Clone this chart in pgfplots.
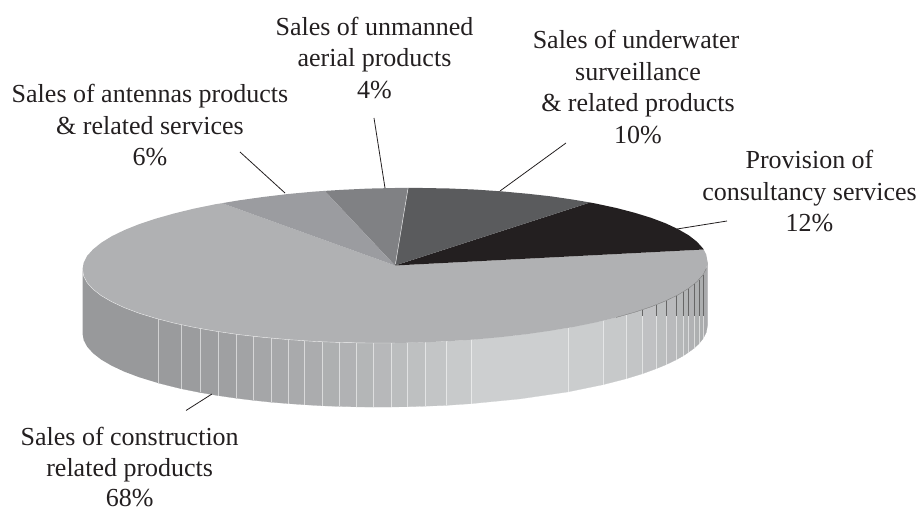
\documentclass[border=0pt]{standalone}
\usepackage{pgfplots}
\pgfplotsset{compat=1.18}
\usepackage{fontspec}
\setmainfont{Liberation Serif}

\definecolor{ink}{HTML}{231F20}
\definecolor{topLight}{HTML}{B0B1B3}
\definecolor{topMid}{HTML}{9B9CA0}
\definecolor{topGray}{HTML}{808184}
\definecolor{topDark}{HTML}{5A5B5D}
\definecolor{sideL}{HTML}{98999B}
\definecolor{sideR}{HTML}{CDCFD0}

% one facet of the rim: shade, x1, top1, bottom1, x2, top2, bottom2
\newcommand{\band}[7]{%
  \addplot[draw=sideR!#1!sideL,line width=0.2pt,fill=sideR!#1!sideL] coordinates {(#2,#3) (#5,#6) (#5,#7) (#2,#4)} --cycle;
  \addplot[color=white,opacity=0.55,line width=0.4pt] coordinates {(#2,#3) (#2,#4)};
}
\newcommand{\lbl}[3]{\node[anchor=base,text=ink,font=\fontsize{26}{31}\selectfont,inner sep=0pt] at (axis cs:#1,#2) {#3};}

\begin{document}
\begin{tikzpicture}
\useasboundingbox (0,0) rectangle (921pt,510pt);
\begin{axis}[
    at={(0,0)}, anchor=south west,
    scale only axis,
    width=921pt, height=510pt,
    xmin=0, xmax=921, ymin=0, ymax=510,
    y dir=reverse,
    hide axis,
    clip=false,
  ]
% rim, left end with its curve
\addplot[draw=none,fill=sideL] coordinates {
  (82.5,269.4) (83.7,276.2) (87.2,282.8) (93.2,289.4) (101.3,295.7) (111.8,301.8) (124.4,307.7)
  (139.0,313.2) (155.6,318.3) (158,319.0)
  (158,383.0) (155.6,382.3) (139.0,377.2) (124.4,371.7) (111.8,365.8) (101.3,359.7) (93.2,353.4)
  (87.2,346.8) (83.7,340.2) (82.5,333.4)} --cycle;
\band{4}{158}{319.0}{383.0}{181}{324.7}{388.7}
\band{6}{181}{324.7}{388.7}{200}{328.5}{392.5}
\band{9}{200}{328.5}{392.5}{218}{331.6}{395.6}
\band{13}{218}{331.6}{395.6}{236}{334.2}{398.2}
\band{19}{236}{334.2}{398.2}{253}{336.3}{400.3}
\band{25}{253}{336.3}{400.3}{271}{338.2}{402.2}
\band{28}{271}{338.2}{402.2}{288}{339.6}{403.6}
\band{32}{288}{339.6}{403.6}{304}{340.7}{404.7}
\band{36}{304}{340.7}{404.7}{322}{341.8}{405.8}
\band{42}{322}{341.8}{405.8}{339}{342.4}{406.4}
\band{47}{339}{342.4}{406.4}{356}{342.9}{406.9}
\band{53}{356}{342.9}{406.9}{373}{343.1}{407.1}
\band{58}{373}{343.1}{407.1}{391}{343.0}{407.0}
\band{66}{391}{343.0}{407.0}{407}{342.8}{406.8}
\band{72}{407}{342.8}{406.8}{425}{342.2}{406.2}
\band{81}{425}{342.2}{406.2}{446}{341.4}{405.4}
\band{91}{446}{341.4}{405.4}{471}{339.7}{403.7}
\addplot[draw=sideR,line width=0.2pt,fill=sideR] coordinates {(471,339.7) (520,334.9) (568,327.9) (568,391.9) (520,398.9) (471,403.7)} --cycle;
\addplot[color=white,opacity=0.55,line width=0.4pt] coordinates {(471,339.7) (471,403.7)};
\band{96}{568}{327.9}{391.9}{603}{320.7}{384.7}
\band{89}{603}{320.7}{384.7}{626}{314.8}{378.8}
\band{81}{626}{314.8}{378.8}{642}{309.9}{373.9}
\band{75}{642}{309.9}{373.9}{656}{304.8}{368.8}
\band{68}{656}{304.8}{368.8}{666}{300.7}{364.7}
\band{62}{666}{300.7}{364.7}{676}{295.9}{359.9}
\band{57}{676}{295.9}{359.9}{683}{292.0}{356.0}
\band{51}{683}{292.0}{356.0}{688}{288.7}{352.7}
\band{47}{688}{288.7}{352.7}{694}{284.3}{348.3}
\band{42}{694}{284.3}{348.3}{699}{279.7}{343.7}
\band{38}{699}{279.7}{343.7}{703}{274.7}{338.7}
\addplot[draw=sideR!32!sideL,line width=0.2pt,fill=sideR!32!sideL] coordinates {(703,274.7) (706.3,268.4) (707.5,261.6) (707.5,325.6) (706.3,332.4) (703,338.7)} --cycle;
\addplot[color=white,opacity=0.55,line width=0.4pt] coordinates {(703,274.7) (703,338.7)};
% dark upper parts of the rim lines on the right
\addplot[color=black!60,line width=0.3pt] coordinates {(642,309.9) (642,316)};
\addplot[color=black!60,line width=0.3pt] coordinates {(656,304.8) (656,316)};
\addplot[color=black!60,line width=0.3pt] coordinates {(666,300.7) (666,316)};
\addplot[color=black!60,line width=0.3pt] coordinates {(676,295.9) (676,316)};
\addplot[color=black!60,line width=0.3pt] coordinates {(683,292.0) (683,316)};
\addplot[color=black!60,line width=0.3pt] coordinates {(688,288.7) (688,316)};
\addplot[color=black!60,line width=0.3pt] coordinates {(694,284.3) (694,316)};
\addplot[color=black!60,line width=0.3pt] coordinates {(699,279.7) (699,316)};
\addplot[color=black!60,line width=0.3pt] coordinates {(703,274.7) (703,316)};

% top face, slices
\addplot[draw=none,fill=topLight] coordinates {
  (395,265.5) (222.1,203.2) (215.7,204.2) (194.1,208.6) (174.0,213.5) (155.6,218.7) (139.0,224.2)
  (124.4,230.1) (111.8,236.2) (101.3,242.7) (93.2,249.2) (87.2,255.8) (83.7,262.6) (82.5,269.4)
  (83.7,276.2) (87.2,282.8) (93.2,289.4) (101.3,295.7) (111.8,301.8) (124.4,307.7) (139.0,313.2)
  (155.6,318.3) (174.0,323.1) (194.1,327.4) (215.7,331.2) (238.7,334.6) (262.9,337.3) (288.1,339.6)
  (314.1,341.4) (340.7,342.5) (367.7,343.0) (395,343.0) (422.3,342.4) (449.3,341.1) (475.9,339.4)
  (501.9,337.0) (527.1,334.1) (551.3,330.6) (574.3,326.8) (595.9,322.4) (616.0,317.5) (634.4,312.3)
  (651.0,306.8) (665.6,300.9) (678.2,294.8) (688.7,288.3) (696.8,281.8) (702.8,275.2) (706.3,268.4)
  (707.5,261.6) (706.3,254.8) (703.7,249.5)} --cycle;
\addplot[draw=none,fill=ink] coordinates {
  (395,265.5) (703.7,249.5) (702.8,248.2) (696.8,241.6) (688.7,235.3) (678.2,229.2) (665.6,223.3)
  (651.0,217.8) (634.4,212.7) (616.0,207.9) (595.9,203.6) (590,202.5)} --cycle;
\addplot[draw=none,fill=topDark] coordinates {
  (395,265.5) (590,202.5) (574.3,199.8) (551.3,196.4) (527.1,193.7) (501.9,191.4) (475.9,189.6)
  (449.3,188.5) (422.3,188.0) (408.1,187.9)} --cycle;
\addplot[draw=none,fill=topGray] coordinates {
  (395,265.5) (408.1,187.9) (395,188.0) (367.7,188.6) (340.7,189.9) (324.7,190.9)} --cycle;
\addplot[draw=none,fill=topMid] coordinates {
  (395,265.5) (324.7,190.9) (314.1,191.6) (288.1,194.0) (262.9,197.0) (238.7,200.4) (222.1,203.2)} --cycle;
\addplot[color=white!75!topGray,line width=0.5pt] coordinates {(395.5,264) (408.1,187.9)};
% pale rim edge on the left, darker on the right
\addplot[color=white,opacity=0.7,line width=0.4pt] coordinates {
  (82.5,269.4) (83.7,276.2) (87.2,282.8) (93.2,289.4) (101.3,295.7) (111.8,301.8) (124.4,307.7)
  (139.0,313.2) (155.6,318.3) (174.0,323.1) (194.1,327.4) (215.7,331.2) (238.7,334.6) (262.9,337.3)
  (288.1,339.6) (314.1,341.4) (340.7,342.5) (367.7,343.0) (395,343.0)};
\addplot[color=black!55,line width=0.3pt] coordinates {
  (616.0,317.5) (634.4,312.3) (651.0,306.8) (665.6,300.9) (678.2,294.8) (688.7,288.3) (696.8,281.8) (702.8,275.2) (706.3,268.4)};

% leader lines
\addplot[ink,line width=0.8pt] coordinates {(374,118) (385,188)};
\addplot[ink,line width=0.8pt] coordinates {(240,152) (285,193)};
\addplot[ink,line width=0.8pt] coordinates {(500,191) (566,143)};
\addplot[ink,line width=0.8pt] coordinates {(677,229) (727,221)};
\addplot[ink,line width=0.8pt] coordinates {(186,410.5) (212,394)};

% labels
\lbl{374.5}{36}{Sales of unmanned}
\lbl{374.5}{67}{aerial products}
\lbl{374.5}{99}{4\%}
\lbl{150}{103}{Sales of antennas products}
\lbl{150}{135}{\& related services}
\lbl{150}{166}{6\%}
\lbl{636}{49}{Sales of underwater}
\lbl{638}{81}{surveillance}
\lbl{638}{112}{\& related products}
\lbl{638}{144}{10\%}
\lbl{809.5}{169}{Provision of}
\lbl{809.5}{200.7}{consultancy services}
\lbl{809.5}{231.7}{12\%}
\lbl{129.7}{446}{Sales of construction}
\lbl{129.7}{477}{related products}
\lbl{129.7}{506.5}{68\%}
\end{axis}
\end{tikzpicture}
\end{document}
